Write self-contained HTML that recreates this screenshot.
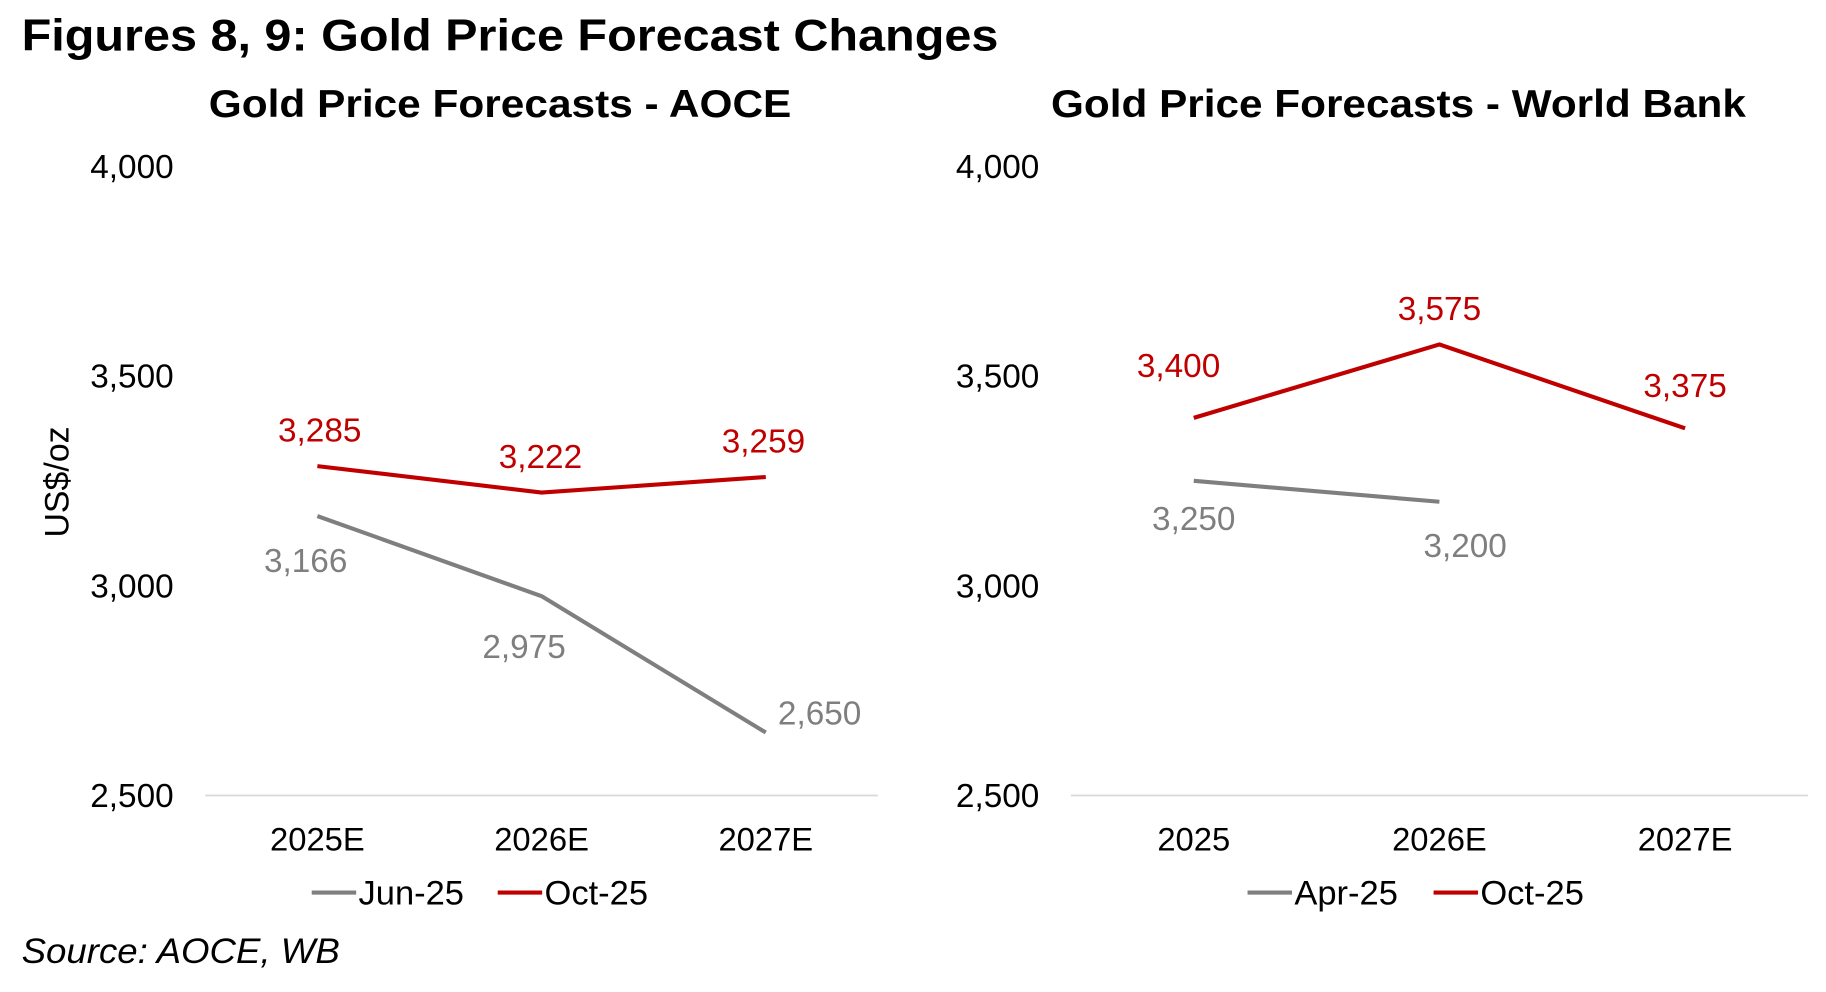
<!DOCTYPE html>
<html><head><meta charset="utf-8"><style>
html,body{margin:0;padding:0;background:#fff;}
svg{display:block;font-family:"Liberation Sans",Arial,sans-serif;}
</style></head><body>
<svg id="fig" width="1826" height="992" viewBox="0 0 1560 848" xmlns="http://www.w3.org/2000/svg">
<text x="18" y="43" font-size="38" font-weight="bold" fill="#000" textLength="835" lengthAdjust="spacingAndGlyphs">Figures 8, 9: Gold Price Forecast Changes</text>
<text x="18" y="823" font-size="30" font-style="italic" fill="#000" textLength="272" lengthAdjust="spacingAndGlyphs">Source: AOCE, WB</text>
</svg>
<script>
const ticks=[2500,3000,3500,4000];
const tickLabels=["2,500","3,000","3,500","4,000"];
const aoceCats=["2025E","2026E","2027E"];
const aoceJun=[3166,2975,2650];
const aoceOct=[3285,3222,3259];
const wbCats=["2025","2026E","2027E"];
const wbApr=[3250,3200];
const wbOct=[3400,3575,3375];

const NS="http://www.w3.org/2000/svg";
const svg=document.getElementById('fig');
function mk(tag,attrs,parent){const e=document.createElementNS(NS,tag);for(const k in attrs)e.setAttribute(k,attrs[k]);(parent||svg).appendChild(e);return e;}
const GRAY="#7f7f7f",RED="#c00000";
const yBase=680,yTop=142;
function yS(v){return yBase-(v-2500)/(4000-2500)*(yBase-yTop);}

function chart(cfg){
  const g=mk('g',{});
  
  
  const t=mk('text',{x:cfg.titleX,y:100,'font-size':33,'font-weight':'bold','text-anchor':'middle',textLength:cfg.titleLen,lengthAdjust:'spacingAndGlyphs'},g);
  t.textContent=cfg.title;
  
  
  const grid=mk('line',{x1:cfg.x0,x2:cfg.x1,y1:yS(2500),y2:yS(2500),stroke:'#d9d9d9','stroke-width':1.5},g);
  
  
  ticks.forEach((v,i)=>{
    const tl=mk('text',{x:cfg.tickX,y:yS(v)+10,'font-size':28.5,'text-anchor':'end',fill:'#000'},g);
    tl.textContent=tickLabels[i];
    
    
  });
  const step=(cfg.x1-cfg.x0)/cfg.cats.length;
  const xS=i=>cfg.x0+step*(i+0.5);
  cfg.cats.forEach((c,i)=>{
    const cl=mk('text',{x:xS(i),y:727,'font-size':28,'text-anchor':'middle'},g);
    cl.textContent=c;
    
    
  });
  cfg.series.forEach(s=>{
    const pts=s.values.map((v,i)=>xS(i)+','+yS(v)).join(' ');
    const pl=mk('polyline',{points:pts,fill:'none',stroke:s.color,'stroke-width':3.5,'stroke-linejoin':'round'},g);
    
    
    s.values.forEach((v,i)=>{
      const o=s.offs[i];
      const dl=mk('text',{x:xS(i)+o[0],y:yS(v)+o[1]+10,'font-size':28.5,'text-anchor':'middle',fill:s.color},g);
      dl.textContent=v.toLocaleString('en-US');
      
      
    });
  });
  let lx=cfg.legendX;
  cfg.series.forEach(s=>{
    const lg=mk('g',{},g);
    
    
    mk('line',{x1:lx,x2:lx+38,y1:763,y2:763,stroke:s.color,'stroke-width':3.5},lg);
    const lt=mk('text',{x:lx+40,y:773,'font-size':29.5},lg);
    lt.textContent=s.label;
    lx+=cfg.legendGap;
  });
  return g;
}

chart({name:'aoce-chart',title:'Gold Price Forecasts - AOCE',titleX:427,titleLen:498,x0:175,x1:750,tickX:148,cats:aoceCats,legendX:266,legendGap:159,
  series:[
    {key:'jun-25',label:'Jun-25',color:GRAY,values:aoceJun,offs:[[-10,38],[-15,43],[46,-17]]},
    {key:'oct-25',label:'Oct-25',color:RED,values:aoceOct,offs:[[2,-31],[-1,-31],[-2,-31]]}
  ]});
chart({name:'world-bank-chart',title:'Gold Price Forecasts - World Bank',titleX:1195,titleLen:594,x0:915,x1:1545,tickX:888,cats:wbCats,legendX:1066,legendGap:159,
  series:[
    {key:'apr-25',label:'Apr-25',color:GRAY,values:wbApr,offs:[[0,32],[22,37]]},
    {key:'oct-25',label:'Oct-25',color:RED,values:wbOct,offs:[[-13,-45],[0,-31],[0,-37]]}
  ]});

const yt=mk('text',{x:0,y:0,'font-size':29,'text-anchor':'middle',transform:'translate(58,412) rotate(-90)'});
yt.textContent='US$/oz';


</script>
</body></html>
